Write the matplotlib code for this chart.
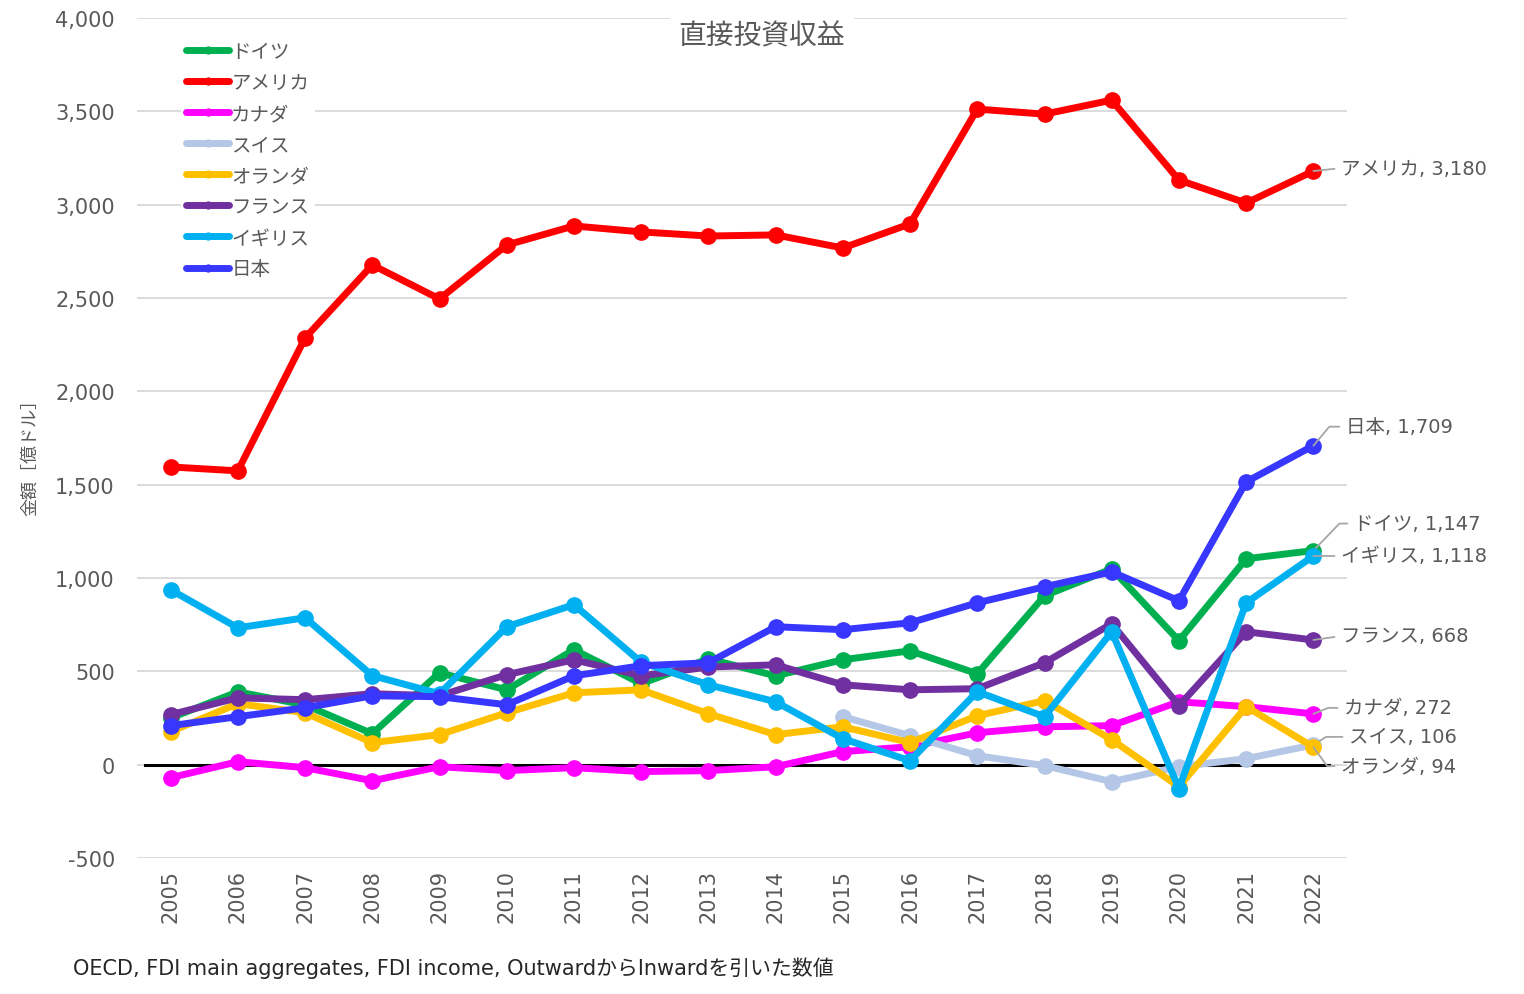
import matplotlib
matplotlib.use("Agg")
import matplotlib.pyplot as plt

plt.rcParams["font.family"] = ["DejaVu Sans", "Noto Sans CJK JP"]

years = list(range(2005, 2023))

# 直接投資収益 (億ドル), 国別
germany = [250, 390, 320, 166, 492, 401, 616, 434, 567, 476, 562, 610, 487, 905, 1049, 664, 1103, 1147]
usa = [1595, 1574, 2286, 2677, 2495, 2784, 2886, 2854, 2832, 2838, 2768, 2897, 3512, 3485, 3560, 3132, 3009, 3180]
canada = [-70, 16, -16, -86, -11, -32, -16, -37, -32, -11, 70, 96, 171, 203, 209, 337, 311, 272]
swiss = [None] * 10 + [257, 155, 48, -5, -91, -11, 32, 106]
netherlands = [177, 327, 278, 118, 161, 278, 385, 401, 273, 161, 203, 118, 262, 343, 134, -118, 311, 94]
france = [268, 358, 348, 380, 369, 482, 562, 476, 523, 535, 428, 401, 407, 546, 755, 316, 712, 668]
uk = [937, 733, 787, 477, 380, 739, 857, 549, 428, 337, 139, 21, 391, 257, 712, -128, 867, 1118]
japan = [209, 257, 305, 369, 364, 321, 476, 530, 546, 739, 723, 760, 867, 953, 1033, 878, 1515, 1709]

names = ["ドイツ", "アメリカ", "カナダ", "スイス", "オランダ", "フランス", "イギリス", "日本"]
series = [germany, usa, canada, swiss, netherlands, france, uk, japan]
colors = ["#00B050", "#FF0000", "#FF00FF", "#B4C7E7", "#FFC000", "#7030A0", "#00B0F0", "#3737FF"]

# ラベル位置 (最終点からのずれ px, 引き出し線の角度)
label_pos = {
    "アメリカ": (28, 3, None),
    "日本": (33, 19, 50),
    "ドイツ": (41, 27, 46),
    "イギリス": (28, 0, None),
    "フランス": (28, 4, None),
    "カナダ": (31, 6, 22),
    "スイス": (36, 8, 32),
    "オランダ": (28, -19, -54),
}

grey = "#595959"

fig = plt.figure(figsize=(15.24, 9.95), dpi=100)
ax = fig.add_axes([137 / 1524, 1 - 859 / 995, 1210 / 1524, 840 / 995])

for name, vals, col in zip(names, series, colors):
    xs = [y for y, v in zip(years, vals) if v is not None]
    vs = [v for v in vals if v is not None]
    ax.plot(xs, vs, color=col, lw=5, marker="o", markersize=11,
            solid_capstyle="round", label=name, zorder=3)

    dx, dy, ang = label_pos[name]
    if ang is None:
        cs = "arc3,rad=0"
    else:
        cs = "angle,angleA=0,angleB=%d,rad=0" % ang
    ax.annotate(f"{name}, {vs[-1]:,}", xy=(xs[-1], vs[-1]), xytext=(dx, dy),
                textcoords="offset pixels", ha="left", va="center",
                fontsize=14, color=grey, annotation_clip=False,
                arrowprops=dict(arrowstyle="-", color="#A6A6A6", lw=1.3,
                                shrinkA=3, shrinkB=0, relpos=(0, 0.5),
                                connectionstyle=cs))

ax.set_xlim(2004.5, 2022.5)
ax.set_ylim(-500, 4000)
ax.set_yticks(range(-500, 4001, 500))
ax.set_yticklabels([f"{t:,}" for t in range(-500, 4001, 500)])
ax.set_xticks(years)
ax.set_xticklabels([str(y) for y in years], rotation=90)
ax.tick_params(axis="both", length=0, labelsize=15, labelcolor=grey)
ax.tick_params(axis="y", pad=16)
ax.tick_params(axis="x", pad=8)
ax.grid(axis="y", color="#D9D9D9", lw=1.3)
ax.set_axisbelow(True)
for s in ax.spines.values():
    s.set_visible(False)
ax.axhline(0, xmin=0.007, xmax=0.985, color="black", lw=2.2, zorder=2)

ax.text(0.5165, 0.979, "直接投資収益", transform=ax.transAxes, ha="center",
        va="center", fontsize=20, color=grey,
        bbox=dict(fc="white", ec="none", pad=6), zorder=4)

leg = ax.legend(loc="upper left", bbox_to_anchor=(0.028, 0.99), fontsize=14,
                handlelength=2.2, handletextpad=0.1, labelspacing=0.62,
                markerscale=0.45, frameon=True, fancybox=False,
                edgecolor="none", framealpha=1, borderpad=0.3)
for t in leg.get_texts():
    t.set_color(grey)
leg.set_zorder(5)

fig.text(30 / 1524, 1 - 453 / 995, "金額［億ドル］", rotation=90, ha="center",
         va="center", fontsize=13, color=grey)
fig.text(73 / 1524, 1 - 968 / 995,
         "OECD, FDI main aggregates, FDI income, OutwardからInwardを引いた数値",
         ha="left", va="center", fontsize=15, color="#262626")

fig.savefig("out.png", dpi=100, facecolor="white")
